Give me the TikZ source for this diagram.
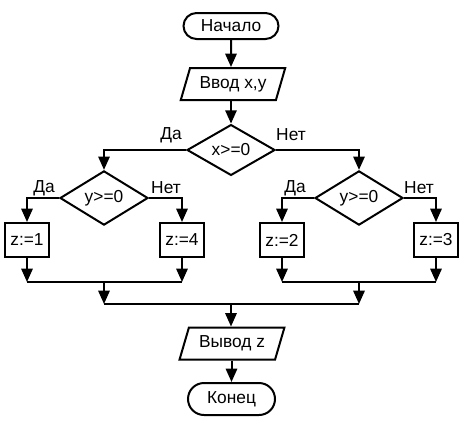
\documentclass[tikz,border=0pt]{standalone}
\usepackage{fontspec}
\setmainfont{Liberation Sans}
\usetikzlibrary{shapes.geometric,shapes.misc,arrows.meta}
\begin{document}
\begin{tikzpicture}[x=0.75pt,y=-0.75pt,
  every node/.style={font=\fontsize{13}{15}\selectfont},
  base/.style={draw,line width=1.5pt,inner sep=0pt},
  term/.style={base,rounded rectangle},
  io/.style={base,trapezium,trapezium left angle=65,trapezium right angle=115,trapezium stretches=true},
  cond/.style={base,diamond},
  proc/.style={base,rectangle,minimum width=33pt,minimum height=25.5pt},
  line/.style={line width=1.5pt},
  arr/.style={line width=1.5pt,-{Triangle[length=10pt,width=8.5pt]}},
  lab/.style={inner sep=0pt}]
\useasboundingbox (0,0) rectangle (467,433);
% nodes
\node[term,minimum width=71.25pt,minimum height=19.5pt] (start) at (231,26) {Начало};
\node[io,minimum width=78.75pt,minimum height=24pt] (in) at (233,84) {Ввод x,y};
\node[cond,minimum width=66pt,minimum height=36pt] (c1) at (231,150) {x>=0};
\node[cond,minimum width=66pt,minimum height=36pt] (c2) at (104,198) {y>=0};
\node[cond,minimum width=66pt,minimum height=36pt] (c3) at (359,198) {y>=0};
\node[proc] (z1) at (27,240) {z:=1};
\node[proc] (z4) at (182,240) {z:=4};
\node[proc] (z2) at (282,240) {z:=2};
\node[proc] (z3) at (436,240) {z:=3};
\node[io,minimum width=78.75pt,minimum height=24pt] (out) at (232,343.5) {Вывод z};
\node[term,minimum width=65.25pt,minimum height=24pt] (end) at (231.5,399) {Конец};
% labels
\node[lab] (l1) at (171,135) {Да};
\node[lab] (l2) at (291,135) {Нет};
\node[lab] (l3) at (44,188) {Да};
\node[lab] (l4) at (166,188) {Нет};
\node[lab] (l5) at (295,188) {Да};
\node[lab] (l6) at (419,188) {Нет};
% junction coordinates
\coordinate (jL) at (104,282);
\coordinate (jR) at (359,282);
\coordinate (jM) at (231,304);
% connectors
\draw[arr] (start) -- (in.north -| start);
\draw[arr] (in.south -| c1.north) -- (c1.north);
\draw[arr] (c1.west) -| (c2.north);
\draw[arr] (c1.east) -| (c3.north);
\draw[arr] (c2.west) -| (z1.north);
\draw[arr] (c2.east) -| (z4.north);
\draw[arr] (c3.west) -| (z2.north);
\draw[arr] (c3.east) -| (z3.north);
\draw[arr] (z1.south) -- (z1.south |- jL);
\draw[arr] (z4.south) -- (z4.south |- jL);
\draw[arr] (z2.south) -- (z2.south |- jR);
\draw[arr] (z3.south) -- (z3.south |- jR);
\draw[line] (z1.south |- jL) -- (z4.south |- jL);
\draw[line] (z2.south |- jR) -- (z3.south |- jR);
\draw[arr] (jL) -- (jL |- jM);
\draw[arr] (jR) -- (jR |- jM);
\draw[line] (jL |- jM) -- (jR |- jM);
\draw[arr] (jM) -- (out.north -| jM);
\draw[arr] (out.south -| end.north) -- (end.north);
\end{tikzpicture}
\end{document}
